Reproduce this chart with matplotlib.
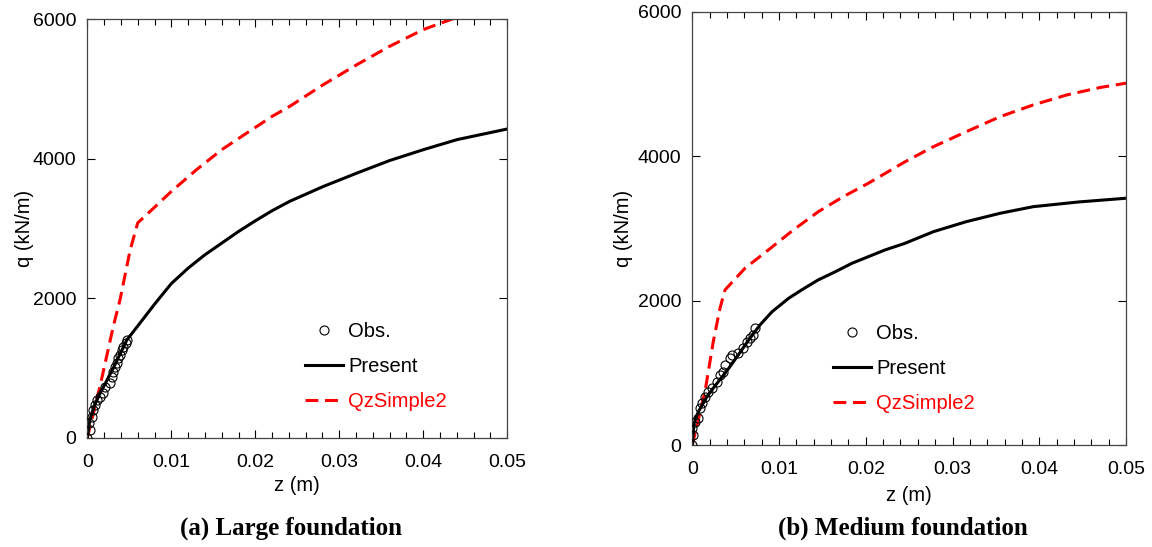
import matplotlib
matplotlib.use("Agg")
import matplotlib.pyplot as plt
from matplotlib.ticker import MultipleLocator

plt.rcParams['font.family'] = ['Liberation Sans', 'DejaVu Sans']

# (a) Large foundation
large_present_z = [0, 0.0003, 0.0008, 0.0015, 0.0031, 0.0047, 0.0061, 0.0081, 0.010,
                   0.012, 0.014, 0.016, 0.018, 0.020, 0.022, 0.0241, 0.0281, 0.0321,
                   0.036, 0.040, 0.044, 0.050]
large_present_q = [0, 250, 450, 630, 1000, 1400, 1617, 1929, 2210,
                   2431, 2623, 2790, 2957, 3110, 3255, 3390, 3603, 3795,
                   3975, 4130, 4274, 4427]
large_qz_z = [0, 0.0015, 0.0031, 0.0039, 0.0051, 0.0060, 0.0079, 0.010, 0.013,
              0.016, 0.019, 0.022, 0.0241, 0.0281, 0.0321, 0.036, 0.040, 0.0438, 0.047]
large_qz_q = [0, 730, 1600, 1980, 2690, 3080, 3293, 3531, 3843,
              4130, 4370, 4608, 4752, 5063, 5350, 5613, 5853, 6020, 6180]
large_obs_z = [0, 0.00032, 0.00024, 0.00052, 0.00071, 0.00091, 0.00111, 0.00151, 0.0019,
               0.0021, 0.0027, 0.0029, 0.0031, 0.0033, 0.00349, 0.00369, 0.00389, 0.00409,
               0.00429, 0.0046, 0.00469]
large_obs_q = [0, 110, 206, 301, 397, 469, 541, 589, 637,
               732, 781, 876, 948, 1019, 1068, 1140, 1187, 1259,
               1306, 1355, 1402]

# (b) Medium foundation
medium_present_z = [0, 0.0002, 0.0007, 0.0018, 0.0030, 0.0042, 0.0053, 0.0065, 0.0078,
                    0.0092, 0.0111, 0.0126, 0.0145, 0.0165, 0.0184, 0.0203, 0.0222,
                    0.0245, 0.0278, 0.0316, 0.0355, 0.0393, 0.0445, 0.050]
medium_present_q = [0, 300, 461, 692, 877, 1062, 1247, 1454, 1662,
                    1846, 2031, 2147, 2285, 2400, 2516, 2608, 2700,
                    2792, 2954, 3093, 3209, 3300, 3365, 3417]
medium_qz_z = [0, 0.00146, 0.00242, 0.00319, 0.00377, 0.00607, 0.00876, 0.01164, 0.01453,
               0.01741, 0.0203, 0.0245, 0.0278, 0.0316, 0.0355, 0.0393, 0.0432, 0.047, 0.050]
medium_qz_q = [0, 738, 1431, 1893, 2147, 2447, 2700, 2977, 3231,
               3439, 3625, 3920, 4131, 4339, 4547, 4709, 4848, 4950, 5010]
medium_obs_z = [0, 0.00012, 0, 0.00031, 0.00069, 0.00089, 0.00108, 0.00146, 0.00184,
                0.00223, 0.0028, 0.00319, 0.00357, 0.00377, 0.00434, 0.00453, 0.0053,
                0.00588, 0.00626, 0.00665, 0.00703, 0.00722]
medium_obs_q = [0, 138, 231, 323, 369, 508, 577, 669, 738,
                785, 877, 969, 1015, 1108, 1200, 1247, 1270,
                1339, 1431, 1477, 1524, 1616]

W, H = 1152, 547
fig = plt.figure(figsize=(W / 100, H / 100), dpi=100)

panels = [
    dict(rect=[87.3 / W, (H - 437.7) / H, 420 / W, 418.4 / H],
         obs=(large_obs_z, large_obs_q), present=(large_present_z, large_present_q),
         qz=(large_qz_z, large_qz_q), leg=(305 / W, (H - 322) / H),
         caption="(a) Large foundation", cap_x=291 / W, ylpad=-1, xlpad=4),
    dict(rect=[692.3 / W, (H - 445) / H, 433.7 / W, 433.3 / H],
         obs=(medium_obs_z, medium_obs_q), present=(medium_present_z, medium_present_q),
         qz=(medium_qz_z, medium_qz_q), leg=(833 / W, (H - 324) / H),
         caption="(b) Medium foundation", cap_x=903 / W, ylpad=3, xlpad=6),
]

for p in panels:
    ax = fig.add_axes(p['rect'])
    ax.plot(*p['obs'], 'o', mfc='none', mec='black', ms=6.5, mew=0.8, label='Obs.', zorder=3)
    ax.plot(*p['present'], '-', color='black', lw=2.2, label='Present', zorder=2)
    ax.plot(*p['qz'], '--', color='#ff0000', lw=2.2, dashes=(4.2, 2.2),
            label='QzSimple2', zorder=1)
    ax.set_xlim(0, 0.05)
    ax.set_ylim(0, 6000)
    ax.set_xticks([0, 0.01, 0.02, 0.03, 0.04, 0.05])
    ax.set_xticklabels(['0', '0.01', '0.02', '0.03', '0.04', '0.05'])
    ax.xaxis.set_minor_locator(MultipleLocator(0.002))
    ax.yaxis.set_major_locator(MultipleLocator(2000))
    ax.tick_params(which='both', direction='in', top=True, right=True, labelsize=14)
    ax.tick_params(which='major', length=6, width=0.8)
    ax.tick_params(which='minor', length=4, width=0.8)
    ax.tick_params(axis='x', pad=11.5)
    ax.tick_params(axis='y', pad=8)
    for s in ax.spines.values():
        s.set_linewidth(0.9)
        s.set_color('#444444')
    ax.set_xlabel('z (m)', fontsize=14.5, labelpad=p['xlpad'])
    ax.set_ylabel('q (kN/m)', fontsize=14.5, labelpad=p['ylpad'])
    leg = ax.legend(loc='upper left', bbox_to_anchor=p['leg'], bbox_transform=fig.transFigure,
                    frameon=False, fontsize=14.5, handlelength=1.9, handletextpad=0.25,
                    labelspacing=0.8, borderpad=0, borderaxespad=0)
    leg.get_texts()[2].set_color('#ff0000')
    fig.text(p['cap_x'], (H - 528) / H, p['caption'], ha='center', va='center',
             fontsize=18, fontweight='bold', family='Liberation Serif')

fig.savefig('out.png', dpi=100)
